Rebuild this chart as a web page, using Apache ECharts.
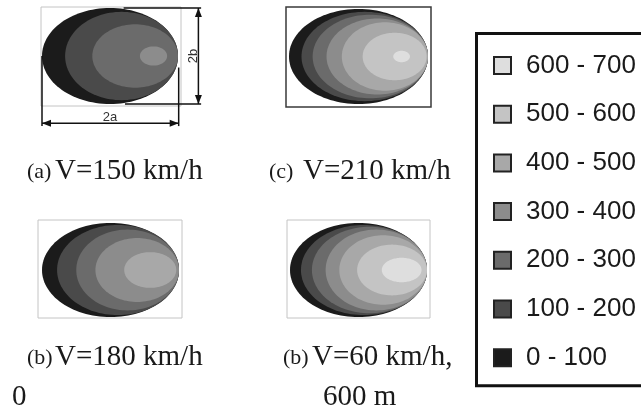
<!DOCTYPE html>
<html>
<head>
<meta charset="utf-8">
<script src="https://cdn.jsdelivr.net/npm/echarts@6/dist/echarts.min.js"></script>
<style>
html,body{margin:0;padding:0;background:#fff;}
#main{width:641px;height:411px;}
</style>
</head>
<body>
<div id="main"></div>
<script>
// ---------- data ----------
const levelNames = ['0 - 100', '100 - 200', '200 - 300', '300 - 400', '400 - 500', '500 - 600', '600 - 700'];

// contour ellipses per panel, in % of 2a (x: 0..100) and % of 2b (half heights)
const aLeft  = [0, 17, 37, 72];
const aRight = [100, 100, 100, 92];
const aHalf  = [50, 46, 33, 10];
const aLevel = [0, 1, 2, 3];

const cLeft  = [0, 9, 17, 27, 38, 53, 75];
const cRight = [100, 100, 100, 100, 100, 99, 87];
const cHalf  = [50, 47, 44, 40, 36, 25, 6];
const cLevel = [0, 1, 2, 3, 4, 5, 6];

const bLeft  = [0, 11, 25, 39, 60];
const bRight = [100, 100, 100, 100, 98];
const bHalf  = [50, 48, 43, 34, 19];
const bLevel = [0, 1, 2, 3, 4];

const dLeft  = [0, 8, 16, 26, 36, 49, 67];
const dRight = [100, 100, 100, 100, 100, 100, 96];
const dHalf  = [50, 48, 46, 43, 37, 27, 13];
const dLevel = [0, 1, 2, 3, 4, 5, 6];

const capPrefix = ['(a)', '(c)', '(b)', '(b)'];
const capMain   = ['V=150 km/h', 'V=210 km/h', 'V=180 km/h', 'V=60 km/h,'];
const capExtra  = ['600 m', '0'];
const dimLabels = ['2a', '2b'];

// ---------- style ----------
const levelColors = ['#1b1b1b', '#4a4a4a', '#6b6b6b', '#8c8c8c', '#a8a8a8', '#c4c4c4', '#dedede'];

const panels = [
  {left: aLeft, right: aRight, half: aHalf, level: aLevel, frame: [41, 7, 181, 106], ell: [42, 8, 178, 104], border: '#c4c4c4', bw: 1},
  {left: cLeft, right: cRight, half: cHalf, level: cLevel, frame: [286, 7, 431, 107], ell: [289, 9, 428, 104], border: '#3a3a3a', bw: 1.5},
  {left: bLeft, right: bRight, half: bHalf, level: bLevel, frame: [38, 220, 182, 318], ell: [42, 223, 179, 317], border: '#c4c4c4', bw: 1},
  {left: dLeft, right: dRight, half: dHalf, level: dLevel, frame: [287, 220, 430, 318], ell: [290, 223, 427, 317], border: '#c4c4c4', bw: 1}
];

const grids = [], xAxes = [], yAxes = [], series = [];

function ellipseRender(params, api) {
  const L = api.value(0), R = api.value(1), H = api.value(2), C = api.value(3);
  const cx = (L + R) / 2, rx = (R - L) / 2;
  const pts = [];
  for (let k = 0; k < 120; k++) {
    const t = 2 * Math.PI * k / 120;
    pts.push(api.coord([cx + rx * Math.cos(t), C + H * Math.sin(t)]));
  }
  return {type: 'polygon', shape: {points: pts}, style: {fill: api.visual('color')}};
}

panels.forEach((p, i) => {
  const f = p.frame, e = p.ell;
  grids.push({left: f[0], top: f[1], width: f[2] - f[0], height: f[3] - f[1], show: true,
    borderColor: p.border, borderWidth: p.bw, backgroundColor: 'transparent', containLabel: false});
  const kx = 100 / (e[2] - e[0]);
  const ky = 100 / (e[3] - e[1]);
  xAxes.push({type: 'value', gridIndex: i, show: false, min: (f[0] - e[0]) * kx, max: (f[2] - e[0]) * kx});
  yAxes.push({type: 'value', gridIndex: i, show: false, max: 50 + (e[1] - f[1]) * ky, min: -50 - (f[3] - e[3]) * ky});
  p.left.forEach((l, j) => {
    const lv = p.level[j];
    series.push({
      type: 'custom', name: levelNames[lv], xAxisIndex: i, yAxisIndex: i,
      itemStyle: {color: levelColors[lv]}, silent: true, clip: false,
      data: [[l, p.right[j], p.half[j], 0]],
      renderItem: ellipseRender
    });
  });
});

// dimension annotations for panel (a)
function arrowHead(tip, from, len, w) {
  const dx = tip[0] - from[0], dy = tip[1] - from[1];
  const d = Math.hypot(dx, dy) || 1;
  const ux = dx / d, uy = dy / d, nx = -uy, ny = ux;
  return {type: 'polygon', shape: {points: [
    tip,
    [tip[0] - ux * len + nx * w, tip[1] - uy * len + ny * w],
    [tip[0] - ux * len - nx * w, tip[1] - uy * len - ny * w]
  ]}, style: {fill: '#111'}};
}
function seg(a, b) {
  return {type: 'line', shape: {x1: a[0], y1: a[1], x2: b[0], y2: b[1]}, style: {stroke: '#111', lineWidth: 1.5}};
}
series.push({
  type: 'custom', name: 'dims', xAxisIndex: 0, yAxisIndex: 0, silent: true, clip: false,
  data: [[0, 0]],
  renderItem: function (params, api) {
    const c = (x, y) => api.coord([x, y]);
    const vTop = c(115, 50), vBot = c(115, -50);
    const hL = c(0, -70), hR = c(100.5, -70);
    const t2a = c(50, -63.5), t2b = c(111, 0);
    return {type: 'group', children: [
      seg(c(60, 50), c(117, 50)),
      seg(c(61, -50), c(117, -50)),
      seg(vTop, vBot), arrowHead(vTop, vBot, 9, 3.5), arrowHead(vBot, vTop, 9, 3.5),
      seg(hL, hR), arrowHead(hL, hR, 9, 3.5), arrowHead(hR, hL, 9, 3.5),
      seg(c(0, 0), c(0, -73)),
      seg(c(100.5, -12), c(100.5, -73)),
      {type: 'text', x: t2a[0], y: t2a[1], style: {text: dimLabels[0], font: '13px "Liberation Sans"', fill: '#333', align: 'center', verticalAlign: 'middle'}},
      {type: 'text', x: t2b[0], y: t2b[1], rotation: Math.PI / 2, style: {text: dimLabels[1], font: '13px "Liberation Sans"', fill: '#333', align: 'center', verticalAlign: 'middle'}}
    ]};
  }
});

// captions (positioned by baseline)
function cap(text, x, baseline, size) {
  return {type: 'text', x: x, y: baseline - 0.3375 * size, silent: true,
    style: {text: text, font: size + 'px "Liberation Serif"', fill: '#1a1a1a', align: 'left', verticalAlign: 'middle'}};
}
const graphics = [
  cap(capPrefix[0], 27, 180, 22), cap(capMain[0], 55, 181, 29),
  cap(capPrefix[1], 269, 180, 22), cap(capMain[1], 303, 181, 29),
  cap(capPrefix[2], 27, 366, 22), cap(capMain[2], 55, 367, 29),
  cap(capPrefix[3], 283, 366, 22), cap(capMain[3], 312, 367, 29),
  cap(capExtra[0], 323, 407, 29), cap(capExtra[1], 12, 407, 29)
];

const chart = echarts.init(document.getElementById('main'), null, {renderer: 'canvas'});
chart.setOption({
  animation: false,
  backgroundColor: '#fff',
  grid: grids,
  xAxis: xAxes,
  yAxis: yAxes,
  series: series,
  graphic: graphics,
  legend: {
    data: levelNames.slice().reverse(),
    orient: 'vertical',
    left: 476.5, top: 33.5,
    padding: [19, 40, 15, 16.5],
    itemGap: 22.7,
    itemWidth: 17, itemHeight: 17,
    icon: 'rect',
    selectedMode: false,
    borderColor: '#111', borderWidth: 3,
    backgroundColor: '#fff',
    itemStyle: {borderColor: '#222', borderWidth: 2},
    textStyle: {fontFamily: 'Liberation Sans', fontSize: 26, lineHeight: 26, color: '#1a1a1a', padding: [0, 0, 0, 10]}
  }
});
</script>
</body>
</html>
